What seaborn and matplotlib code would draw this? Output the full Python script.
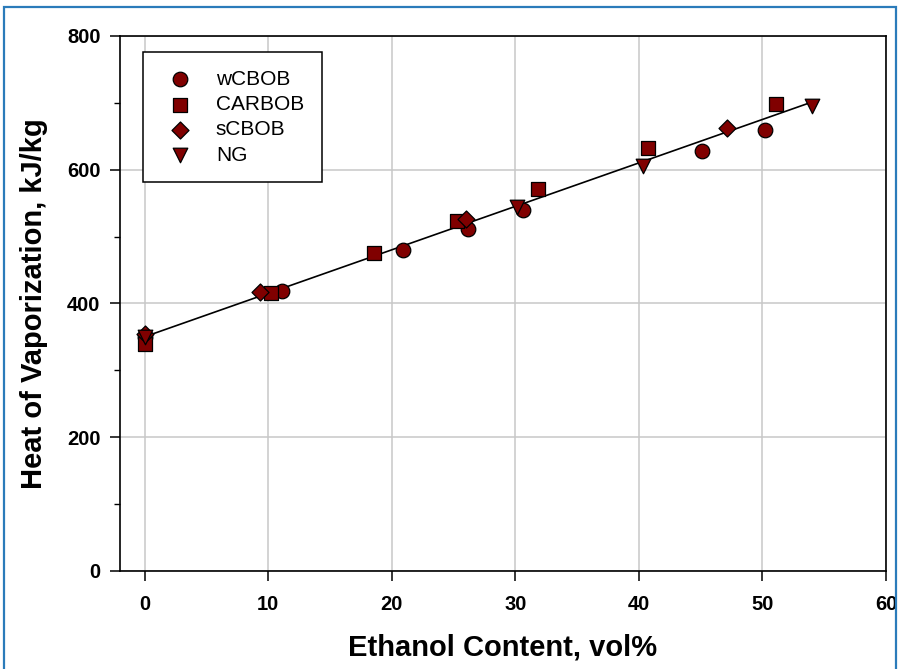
import pandas as pd
import numpy as np
import matplotlib
matplotlib.use("Agg")
import matplotlib.pyplot as plt
import matplotlib.patches as patches
from matplotlib.ticker import MultipleLocator
import seaborn as sns

# values
wcbob_x = [0.0, 11.1, 20.9, 26.2, 30.6, 45.1, 50.2]
wcbob_y = [350, 418, 480, 512, 540, 628, 660]
carbob_x = [0.0, 10.2, 18.6, 25.3, 31.8, 40.7, 51.1]
carbob_y = [340, 415, 476, 524, 571, 632, 698]
scbob_x = [0.0, 9.3, 26.0, 47.1]
scbob_y = [355, 417, 527, 663]
ng_x = [0.0, 30.1, 40.3, 54.0]
ng_y = [350, 544, 606, 695]

series = ["wCBOB", "CARBOB", "sCBOB", "NG"]
xs = [wcbob_x, carbob_x, scbob_x, ng_x]
ys = [wcbob_y, carbob_y, scbob_y, ng_y]

rows = []
for name, xv, yv in zip(series, xs, ys):
    for a, b in zip(xv, yv):
        rows.append({"ethanol": a, "hov": b, "fuel": name})
df = pd.DataFrame(rows)

sns.set_style("ticks")
plt.rcParams["font.family"] = ["Liberation Sans", "DejaVu Sans"]
plt.rcParams["text.color"] = "black"
plt.rcParams["axes.labelcolor"] = "black"
plt.rcParams["xtick.color"] = "black"
plt.rcParams["ytick.color"] = "black"

fig = plt.figure(figsize=(9, 6.69), dpi=100)
ax = fig.add_axes([0.1333, 0.1465, 0.8511, 0.7997])

# blue frame around the figure
fig.patches.append(patches.Rectangle((0.004, -0.05), 0.992, 1.04, transform=fig.transFigure,
                                     fill=False, edgecolor="#2b7bba", lw=1.6))

# fit line through all data
sns.regplot(data=df, x="ethanol", y="hov", scatter=False, ci=None, truncate=True,
            color="black", line_kws={"lw": 1.2, "zorder": 2}, ax=ax)

markers = {"wCBOB": "o", "CARBOB": "s", "sCBOB": "D", "NG": "v"}
sizes = {"wCBOB": 110, "CARBOB": 95, "sCBOB": 75, "NG": 110}
for name in series:
    sub = df[df["fuel"] == name]
    sns.scatterplot(data=sub, x="ethanol", y="hov", marker=markers[name], s=sizes[name],
                    color="#800000", edgecolor="black", linewidth=0.9, label=name,
                    zorder=3, ax=ax, legend=True)

ax.set_xlim(-2, 60)
ax.set_ylim(0, 800)
ax.set_xticks(np.arange(0, 61, 10))
ax.set_yticks(np.arange(0, 801, 200))
ax.yaxis.set_minor_locator(MultipleLocator(100))
ax.grid(True, which="major", color="#c8c8c8", lw=1.1)
ax.set_axisbelow(True)
for sp in ax.spines.values():
    sp.set_visible(True)
    sp.set_color("black")
    sp.set_linewidth(1.2)

ax.tick_params(axis="both", which="major", direction="out", length=7, width=1.1,
               labelsize=14.5, colors="black")
ax.tick_params(axis="y", which="minor", direction="out", length=4, width=1.0)
for lab in ax.get_xticklabels() + ax.get_yticklabels():
    lab.set_fontweight("bold")
ax.tick_params(axis="x", pad=10)
ax.tick_params(axis="y", pad=7)

ax.set_xlabel("Ethanol Content, vol%", fontsize=21, fontweight="bold", labelpad=14,
              color="black")
ax.set_ylabel("Heat of Vaporization, kJ/kg", fontsize=21, fontweight="bold", labelpad=14,
              color="black")

leg = ax.legend(loc="upper left", bbox_to_anchor=(0.030, 0.970), borderaxespad=0,
                fontsize=15, frameon=True, fancybox=False, edgecolor="black",
                borderpad=0.85, handlelength=1.9, handletextpad=0.75, labelspacing=0.3)
leg.get_frame().set_linewidth(1.1)
leg.get_frame().set_alpha(1)
for t in leg.get_texts():
    t.set_color("black")

fig.savefig("out.png", dpi=100)
